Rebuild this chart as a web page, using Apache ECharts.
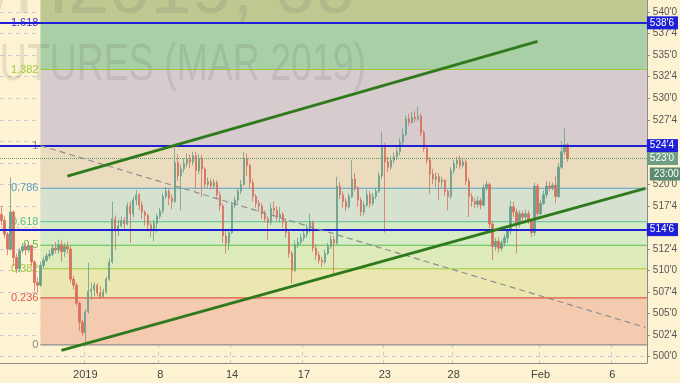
<!DOCTYPE html>
<html><head><meta charset="utf-8">
<script src="https://cdn.jsdelivr.net/npm/echarts@6/dist/echarts.min.js"></script>
<style>html,body{margin:0;padding:0;background:#fdf3d2}#c{width:680px;height:383px}</style>
</head><body><div id="c"></div>
<script>
// ---- data ----
// [open, close, low, high] per 60-min bar
const candles = [
[516.5,515.8,515.2,517.5],[515.8,514.2,513.8,516.3],[514.2,512.5,511.8,514.5],[512.5,516.8,512.3,520.8],
[516.8,511.5,510.5,517.0],[511.5,510.2,509.7,512.0],[510.2,512.3,509.8,512.6],[512.3,512.8,512.0,513.2],
[512.8,512.4,511.8,513.2],[512.4,512.9,512.1,513.4],[512.9,511.0,510.5,513.0],[511.0,508.6,507.6,511.2],
[508.6,508.3,507.4,509.2],[508.3,510.6,508.1,511.0],[510.6,511.2,510.3,511.6],[511.2,511.7,511.0,512.0],
[511.7,511.9,511.4,512.4],[511.9,512.6,511.7,513.0],[512.6,512.4,512.0,513.3],[512.4,513.0,512.0,513.6],
[513.0,512.2,511.0,513.5],[512.2,512.8,511.6,513.2],[512.8,512.5,511.9,513.4],[512.5,509.0,508.6,512.8],
[509.0,508.3,507.8,509.4],[508.3,506.2,505.9,508.6],[506.2,504.0,503.0,506.4],[504.0,502.8,502.4,504.3],
[502.8,505.2,501.4,505.5],[505.2,507.6,505.0,510.9],[507.6,507.8,506.6,508.6],[507.8,508.3,507.0,508.6],
[508.3,507.4,507.0,508.5],[507.4,507.0,506.7,508.2],[507.0,507.5,506.8,507.9],[507.5,509.0,507.3,509.3],
[509.0,511.0,508.8,511.4],[511.0,516.0,510.8,518.0],[516.0,514.6,512.4,516.4],[514.6,515.2,514.0,515.9],
[515.2,515.8,515.0,516.3],[515.8,515.4,514.6,516.2],[515.4,517.5,515.2,517.9],[517.5,516.6,513.2,518.0],
[516.6,518.2,516.2,518.6],[518.2,518.8,517.6,519.3],[518.8,517.6,517.0,519.0],[517.6,516.8,516.0,518.0],
[516.8,516.4,515.2,517.0],[516.4,515.3,514.5,516.6],[515.3,514.6,513.9,515.6],[514.6,515.5,513.4,515.9],
[515.5,516.3,514.4,516.6],[516.3,516.9,516.0,517.3],[516.9,518.6,516.6,519.0],[518.6,519.2,518.3,519.7],
[519.2,518.4,517.6,519.5],[518.4,518.0,517.1,518.8],[518.0,522.5,517.8,524.4],[522.5,521.0,520.4,523.5],
[521.0,521.8,517.0,522.3],[521.8,522.4,521.4,523.0],[522.4,522.9,522.0,523.6],[522.9,522.6,521.9,523.5],
[522.6,523.3,522.2,523.8],[523.3,521.6,519.4,523.8],[521.6,523.0,521.2,523.5],[523.0,521.8,518.5,523.4],
[521.8,520.0,519.6,522.0],[520.0,520.3,519.5,520.8],[520.3,519.8,519.4,520.6],[519.8,520.2,519.5,520.6],
[520.2,518.8,518.4,520.5],[518.8,517.5,516.9,519.2],[517.5,514.0,513.2,517.8],[514.0,513.2,512.0,514.6],
[513.2,514.4,512.4,514.8],[514.4,517.6,514.2,518.0],[517.6,518.2,517.2,518.6],[518.2,519.2,517.8,519.6],
[519.2,520.0,518.9,520.5],[520.0,523.0,519.8,523.8],[523.0,522.2,521.0,523.6],[522.2,520.2,519.6,522.4],
[520.2,518.6,518.0,520.6],[518.6,517.8,517.3,518.9],[517.8,517.5,516.8,518.2],[517.5,516.6,516.0,517.8],
[516.6,516.0,515.6,517.0],[516.0,515.6,513.6,516.3],[515.6,517.2,515.3,517.8],[517.2,517.0,516.5,518.0],
[517.0,516.2,515.8,517.5],[516.2,516.5,515.6,517.4],[516.5,515.6,515.0,516.8],[515.6,514.4,513.8,516.0],
[514.4,512.0,511.5,514.6],[512.0,510.0,508.5,512.3],[510.0,513.0,509.8,513.5],[513.0,513.3,512.6,513.8],
[513.3,513.8,513.0,514.3],[513.8,514.2,513.4,514.6],[514.2,514.9,513.8,515.4],[514.9,515.6,514.4,516.6],
[515.6,512.6,512.2,515.8],[512.6,511.8,511.2,513.0],[511.8,511.2,510.8,512.2],[511.2,511.0,510.4,511.6],
[511.0,512.0,510.7,512.4],[512.0,512.8,511.8,513.2],[512.8,513.6,512.5,514.1],[513.6,513.2,509.5,514.0],
[513.2,519.8,513.0,520.9],[519.8,518.8,518.3,520.3],[518.8,518.0,517.3,519.2],[518.0,517.4,516.9,518.4],
[517.4,518.6,517.2,519.0],[518.6,520.6,518.4,522.8],[520.6,519.6,519.2,521.3],[519.6,518.2,517.4,519.8],
[518.2,516.8,516.3,518.5],[516.8,517.6,516.4,518.0],[517.6,518.8,517.4,519.4],[518.8,517.8,517.3,519.2],
[517.8,518.6,517.5,519.0],[518.6,519.2,518.3,519.6],[519.2,521.0,519.0,521.4],[521.0,524.4,520.6,526.1],
[524.4,522.6,514.4,524.8],[522.6,522.0,521.4,523.2],[522.0,522.8,521.7,523.3],[522.8,523.2,522.4,523.7],
[523.2,523.8,522.8,524.3],[523.8,524.9,523.4,525.4],[524.9,525.8,524.5,526.6],[525.8,527.6,525.6,528.0],
[527.6,527.2,526.8,528.2],[527.2,527.8,527.0,528.4],[527.8,527.6,527.2,528.5],[527.6,527.9,527.3,529.0],
[527.9,526.0,525.6,528.2],[526.0,524.2,523.8,526.3],[524.2,522.8,522.4,524.6],[522.8,521.2,518.9,523.2],
[521.2,520.6,520.0,521.8],[520.6,520.9,519.7,521.4],[520.9,520.3,518.2,521.3],[520.3,520.5,519.6,520.9],
[520.5,519.2,518.7,520.6],[519.2,518.6,517.0,519.4],[518.6,521.6,518.3,522.0],[521.6,522.4,521.2,522.8],
[522.4,522.8,521.9,523.2],[522.8,522.2,521.8,523.3],[522.2,522.6,521.9,523.1],[522.6,520.4,519.9,522.9],
[520.4,518.6,516.2,520.8],[518.6,518.0,517.4,519.0],[518.0,517.7,517.2,518.4],[517.7,518.1,517.3,518.6],
[518.1,517.6,517.1,518.4],[517.6,519.6,517.4,520.0],[519.6,520.0,519.3,520.4],[520.0,515.4,514.9,520.2],
[515.4,512.8,511.2,515.7],[512.8,513.4,512.3,513.8],[513.4,512.6,512.1,513.9],[512.6,513.2,512.2,513.6],
[513.2,513.8,512.8,514.2],[513.8,514.6,513.2,515.0],[514.6,517.4,514.2,518.1],[517.4,516.8,516.2,518.0],
[516.8,515.4,512.0,517.2],[515.4,516.6,515.0,517.0],[516.6,516.2,515.7,517.0],[516.2,516.6,515.8,517.1],
[516.6,515.8,515.4,517.0],[515.8,514.4,513.9,516.0],[514.4,519.8,514.0,520.2],[519.8,516.6,516.2,520.1],
[516.6,517.8,516.4,518.2],[517.8,518.8,517.6,519.3],[518.8,519.8,518.4,520.4],[519.8,519.6,519.2,520.3],
[519.6,519.9,519.3,520.2],[519.9,518.6,517.8,521.0],[518.6,522.0,518.4,522.5],[522.0,523.8,521.8,525.0],
[523.8,524.6,523.4,526.6],[524.6,523.0,522.6,524.8]
];
const totalBars = 216;                       // bars incl. empty future space
const tickIndex = [28, 53, 77, 101, 128, 151, 180, 204];
const tickText  = ['2019', '8', '14', '17', '23', '28', 'Feb', '6'];
const yTicks = [500,502.5,505,507.5,510,512.5,515,517.5,520,522.5,525,527.5,530,532.5,535,537.5,540];
const fibRatios = [0, 0.236, 0.382, 0.5, 0.618, 0.786, 1, 1.382, 1.618];
const fibLabels = ['0', '0.236', '0.382', '0.5', '0.618', '0.786', '1', '1.382', '1.618'];
const fibLow = 501.375, fibHigh = 524.5, fibStartIndex = 13;
const hLines = [538.75, 524.5, 514.75];
const lastPrice = 523.0, lastTime = '23:00';
const upperChannel = [[22, 520.96], [179, 536.6]];
const lowerChannel = [[20, 500.74], [215, 519.53]];
const fibDiagonal = [[13, 524.5], [215, 503.4]];
const watermark1 = 'ZWH2019, 60';
const watermark2 = 'WHEAT FUTURES (MAR 2019)';

// ---- styles ----
const bandColors = ['#f5cbb0','#ebe7b0','#dcebb9','#d6ebc6','#d6e2cf','#ebdcc0','#d6cbcd','#a9cfa6'];
const topBandColor = '#bec992';
const levelColors = ['#8c8c8c','#e0564a','#9dcb3a','#55c04c','#4fc095','#5a9ec8','#8c8c8c','#9dcb3a','#3a3ad0'];
const blue = '#1f1fd8';

function fmt(v) {
  const n = Math.floor(v + 1e-6);
  const e = Math.round((v - n) * 8);
  return n + "'" + e;
}
// axis labels hidden behind the price boxes
const boxPrices = hLines.concat([lastPrice]);
function axisFmt(v) {
  return boxPrices.some(p => Math.abs(p - v) < 1) ? '' : fmt(v);
}

const cats = Array.from({length: totalBars}, (_, i) => String(i));
const chart = echarts.init(document.getElementById('c'));

function renderFib(params, api) {
  const cs = params.coordSys;
  const x0 = api.coord([fibStartIndex, fibLow])[0];
  const x1 = cs.x + cs.width;
  const ys = fibRatios.map(r => api.coord([fibStartIndex, fibLow + r * (fibHigh - fibLow)])[1]);
  const ch = [];
  for (let i = 0; i < fibRatios.length - 1; i++) {
    ch.push({type:'rect', shape:{x:x0, y:ys[i+1], width:x1-x0, height:ys[i]-ys[i+1]}, style:{fill:bandColors[i]}});
  }
  const top = ys[ys.length-1];
  ch.push({type:'rect', shape:{x:x0, y:cs.y, width:x1-x0, height:top-cs.y}, style:{fill:topBandColor}});
  // watermark
  ch.push({type:'text', x:356, y:-7, style:{text:watermark1, x:0, y:0, align:'right', verticalAlign:'middle',
    fill:'rgba(90,90,90,0.14)', font:'74px "Liberation Sans", sans-serif'}});
  ch.push({type:'text', x:366, y:66, scaleX:0.72, style:{text:watermark2, x:0, y:0, align:'right', verticalAlign:'middle',
    fill:'rgba(90,90,90,0.14)', font:'52px "Liberation Sans", sans-serif'}});
  // level lines + labels
  for (let i = 0; i < fibRatios.length; i++) {
    ch.push({type:'line', shape:{x1:x0, y1:ys[i], x2:x1, y2:ys[i]}, style:{stroke:levelColors[i], lineWidth:1.2}});
    ch.push({type:'text', style:{text:fibLabels[i], x:x0-2, y:ys[i], align:'right', verticalAlign:'middle',
      fill:levelColors[i], font:'11px "Liberation Sans", sans-serif'}});
  }
  return {type:'group', children:ch};
}

function renderDrawings(params, api) {
  const ch = [];
  const seg = (pts, style) => {
    const a = api.coord(pts[0]), b = api.coord(pts[1]);
    ch.push({type:'line', shape:{x1:a[0], y1:a[1], x2:b[0], y2:b[1]}, style});
  };
  seg(fibDiagonal, {stroke:'#8e8e8e', lineWidth:1.2, lineDash:[6,4]});
  seg(upperChannel, {stroke:'#2f7a1c', lineWidth:2.8});
  seg(lowerChannel, {stroke:'#2f7a1c', lineWidth:2.8});
  const cs = params.coordSys;
  const yp = api.coord([0, lastPrice])[1];
  ch.push({type:'text', style:{text:lastTime, x:cs.x+cs.width+3, y:yp+9, align:'left', verticalAlign:'top',
    fill:'#fff', backgroundColor:'#5d8b72', padding:[2,4,1,4], font:'10px "Liberation Sans", sans-serif'}});
  return {type:'group', children:ch};
}

const gridLine = {color:'rgba(140,140,210,0.4)', type:[4,4], width:1};
const mlLabel = (bg) => ({show:true, position:'end', distance:0, formatter:(p)=>fmt(p.value), color:'#fff',
  backgroundColor:bg, padding:[2,4,1,3], fontSize:10, fontFamily:'Liberation Sans'});

chart.setOption({
  backgroundColor:'#fdf3d2',
  animation:false,
  grid:{left:0, right:32, top:0, bottom:20},
  xAxis:{type:'category', data:cats, boundaryGap:true,
    axisLine:{lineStyle:{color:'#8a8a8a'}},
    axisTick:{alignWithLabel:true, interval:(i)=>tickIndex.includes(i), length:4, lineStyle:{color:'#8a8a8a'}},
    axisLabel:{interval:(i)=>tickIndex.includes(i), formatter:(v,i)=>tickText[tickIndex.indexOf(i)] || '',
      color:'#444', fontSize:11, margin:6, fontFamily:'Liberation Sans'},
    splitLine:{show:true, interval:(i)=>tickIndex.includes(i), lineStyle:gridLine}
  },
  yAxis:{type:'value', position:'right', min:499.27, max:541.4,
    axisLine:{show:true, lineStyle:{color:'#8a8a8a'}},
    axisTick:{show:true, customValues:yTicks, length:3, lineStyle:{color:'#8a8a8a'}},
    axisLabel:{customValues:yTicks, formatter:axisFmt, color:'#555', fontSize:10, margin:6, fontFamily:'Liberation Sans'},
    splitLine:{show:true, lineStyle:gridLine}
  },
  series:[
    {type:'custom', z:1, silent:true, renderItem:renderFib, data:[[0, 510]], encode:{x:0, y:1}},
    {type:'candlestick', z:2, data:candles.map(c=>[c[0], c[1], c[2], c[3]]), barWidth:1.8,
      itemStyle:{color:'#6b9e8c', color0:'#d8705c', borderColor:'#6b9e8c', borderColor0:'#d8705c', borderWidth:0.8},
      markLine:{silent:true, symbol:['none','none'], animation:false,
        data:[
          ...hLines.map(v=>({yAxis:v, lineStyle:{color:blue, width:2, type:'solid'}, label:mlLabel(blue)})),
          {yAxis:lastPrice, lineStyle:{color:'#5d9a73', width:1, type:'dotted'}, label:mlLabel('#6f9e84')}
        ]}
    },
    {type:'custom', z:5, silent:true, renderItem:renderDrawings, data:[[0, 510]], encode:{x:0, y:1}, clip:false}
  ]
});
</script></body></html>
